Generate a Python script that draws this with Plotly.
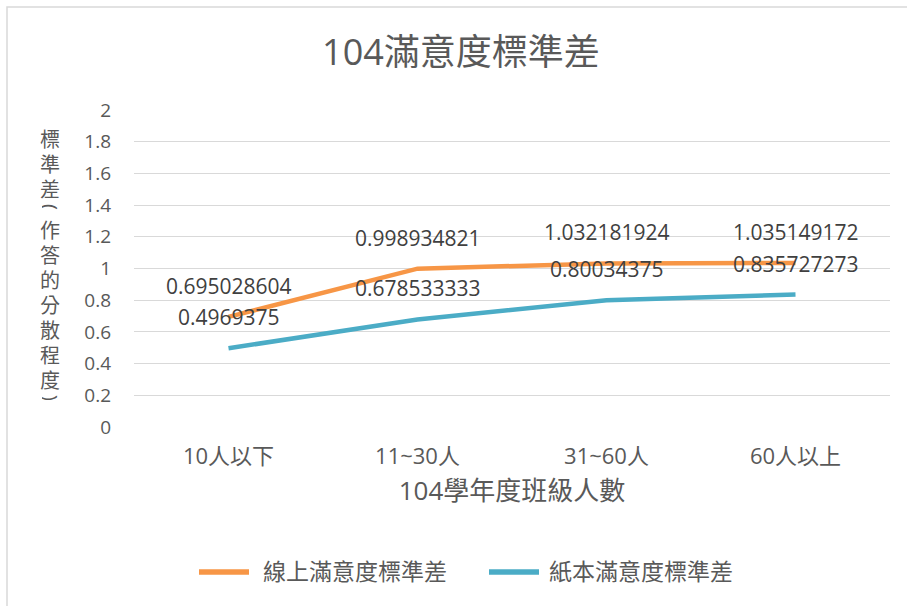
import plotly.graph_objects as go

categories = ["10人以下", "11~30人", "31~60人", "60人以上"]
online_std = [0.695028604, 0.998934821, 1.032181924, 1.035149172]
paper_std = [0.4969375, 0.678533333, 0.80034375, 0.835727273]
online_name = "線上滿意度標準差"
paper_name = "紙本滿意度標準差"
title_text = "104滿意度標準差"
x_title = "104學年度班級人數"
y_title = "標準差(作答的分散程度)"
y_ticks = [0, 0.2, 0.4, 0.6, 0.8, 1, 1.2, 1.4, 1.6, 1.8, 2]

FONT = "Open Sans, Noto Sans CJK TC, sans-serif"
ORANGE = "#f79646"
BLUE = "#4bacc6"
TXT = "#595959"

W, H = 907, 606
L, R, T, B = 134, 17, 110, 179
PW = W - L - R
PH = H - T - B


def px(xp):
    return (xp - L) / PW


def py(yp):
    return (H - B - yp) / PH


fig = go.Figure()
fig.add_trace(go.Scatter(x=categories, y=online_std, mode="lines", name=online_name,
                         line=dict(color=ORANGE, width=4.5), showlegend=False))
fig.add_trace(go.Scatter(x=categories, y=paper_std, mode="lines", name=paper_name,
                         line=dict(color=BLUE, width=4.5), showlegend=False))

annotations = []
for series in (online_std, paper_std):
    for c, v in zip(categories, series):
        annotations.append(dict(x=c, y=v, xref="x", yref="y", text=str(v), showarrow=False,
                                yshift=31, font=dict(family=FONT, size=21, color="#404040")))

# stacked vertical y-axis title (one glyph per line, parentheses turned as in vertical text)
ypos = 139
for ch in y_title:
    is_paren = ch in "()"
    yc = ypos - 7 if is_paren else ypos
    annotations.append(dict(x=px(50), y=py(yc), xref="paper", yref="paper",
                            text=ch, showarrow=False, textangle=90 if is_paren else 0,
                            font=dict(family=FONT, size=20, color=TXT),
                            height=16 if is_paren else 24,
                            xanchor="center", yanchor="middle"))
    ypos += 16 if is_paren else 25

# legend drawn as line samples + labels
shapes = [dict(type="rect", xref="paper", yref="paper",
               x0=px(7), x1=px(W + 10), y0=py(H + 10), y1=py(7),
               line=dict(color="#d9d9d9", width=1.5), fillcolor="rgba(0,0,0,0)", layer="below")]
for name, color, x0, x1, xt in ((online_name, ORANGE, 199, 249, 261),
                                (paper_name, BLUE, 489, 539, 547)):
    shapes.append(dict(type="line", xref="paper", yref="paper", x0=px(x0), x1=px(x1),
                       y0=py(572), y1=py(572), line=dict(color=color, width=5.5)))
    annotations.append(dict(x=px(xt), y=py(571), xref="paper", yref="paper", text=name,
                            showarrow=False, xanchor="left", yanchor="middle",
                            font=dict(family=FONT, size=23, color=TXT)))

fig.update_layout(
    width=W, height=H,
    margin=dict(l=L, r=R, t=T, b=B, autoexpand=False),
    paper_bgcolor="white", plot_bgcolor="white",
    font=dict(family=FONT, color=TXT),
    showlegend=False,
    title=dict(text=title_text, x=461 / W, xref="container", xanchor="center",
               y=1 - 52 / H, yref="container", yanchor="middle",
               font=dict(family=FONT, size=36, color=TXT)),
    xaxis=dict(type="category", range=[-0.5, 3.5], showgrid=False, showline=False,
               zeroline=False, tickfont=dict(family=FONT, size=22, color=TXT),
               ticks="", ticklabelstandoff=14, automargin=False,
               title=dict(text=x_title, font=dict(family=FONT, size=26, color=TXT), standoff=12)),
    yaxis=dict(range=[0, 2], tickvals=y_ticks, ticktext=[str(t) for t in y_ticks],
               showgrid=True, gridcolor="#d9d9d9", gridwidth=1, zeroline=False,
               showline=False, ticks="", ticklabelstandoff=22, automargin=False,
               tickfont=dict(family=FONT, size=19, color=TXT)),
    annotations=annotations,
    shapes=shapes,
)

fig.write_html("out.html", config={"displayModeBar": False},
               post_script="document.body.style.margin='0';document.body.style.overflow='hidden';")
